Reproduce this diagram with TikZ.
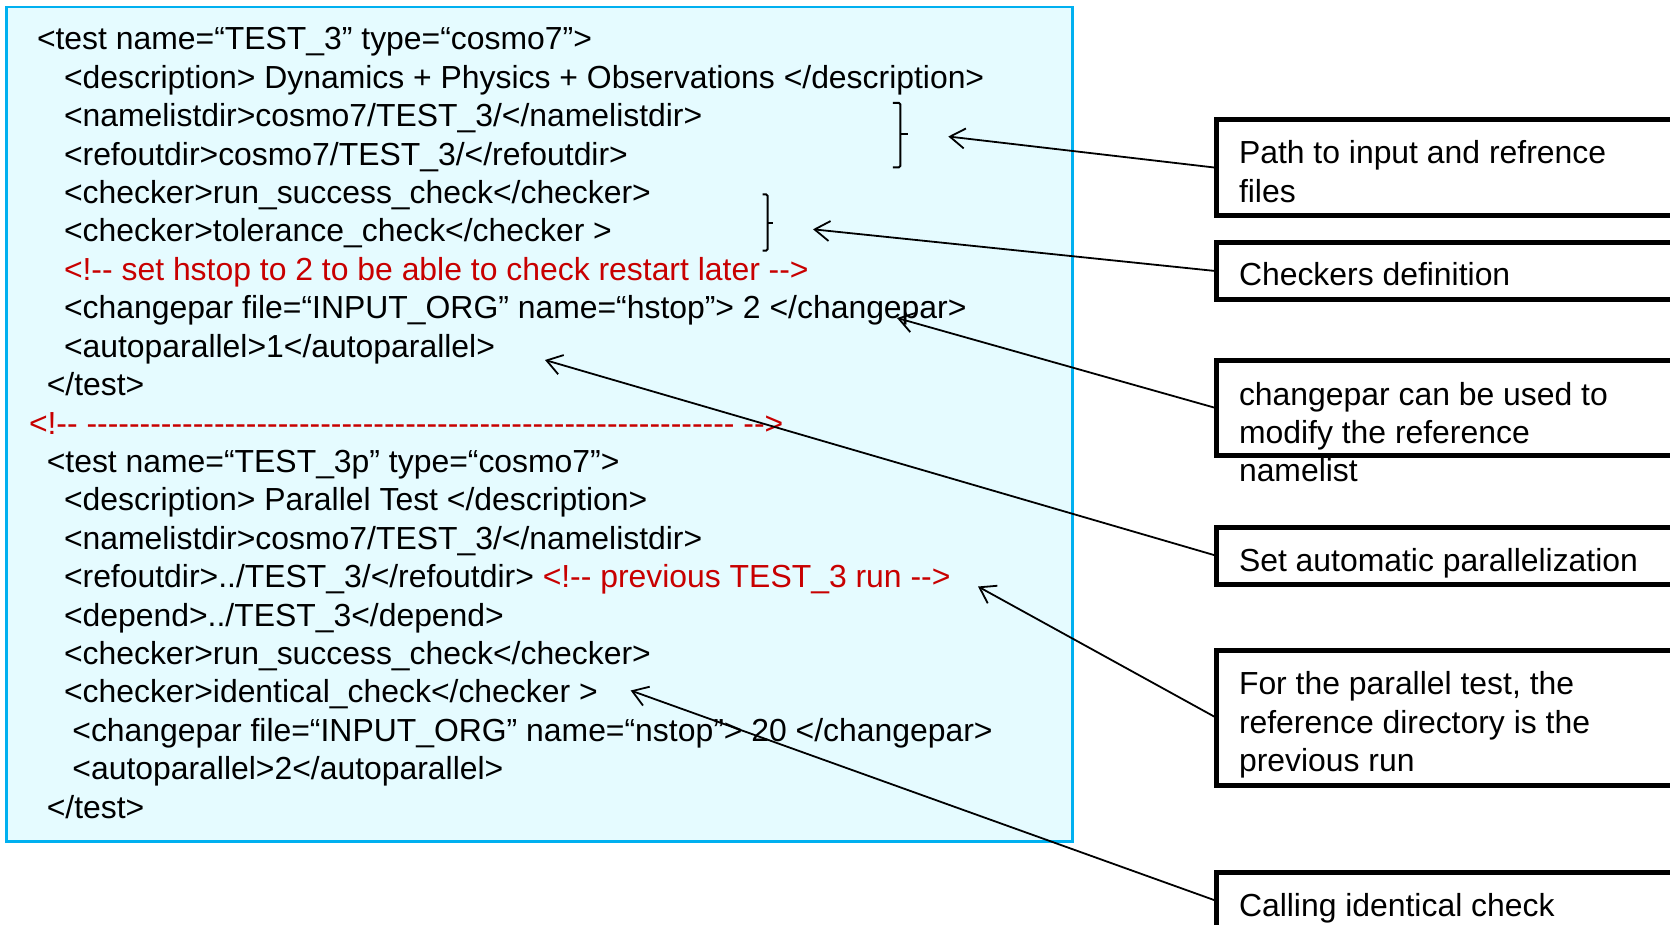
\documentclass[tikz,border=0pt]{standalone}
\usepackage{fontspec}
\setmainfont{Liberation Sans}
\usetikzlibrary{arrows.meta}
\definecolor{codebg}{RGB}{229,251,255}
\definecolor{codeline}{RGB}{0,176,240}
\definecolor{cred}{RGB}{200,0,0}
\newcount\hycnt
\newcommand\hyrun[1]{\hycnt=0 \loop-{}\advance\hycnt by 1 \ifnum\hycnt<#1 \repeat}
\begin{document}
\begin{tikzpicture}[x=1pt,y=-1pt,
  txt/.style={anchor=base west, inner sep=0pt, outer sep=0pt, yshift=-1.5pt, font=\fontsize{31.9}{38.4}\selectfont},
  redtxt/.style={txt, text=cred},
  codebox/.style={draw=codeline, fill=codebg, line width=2.7pt, anchor=north west, outer sep=0pt, inner sep=0pt},
  note/.style={draw=black, line width=5pt, anchor=north west, outer sep=0pt, inner sep=0pt, minimum width=520pt},
  brace/.style={line width=2pt, rounded corners=1.5pt},
  conn/.style={line width=1.8pt, -{Straight Barb[length=15pt,width=20pt,line width=1.8pt]}}
]
\clip (0,0) rectangle (1670,925);
% code panel
\node[codebox, minimum width=1065.8pt, minimum height=834.3pt] (cb) at (6.5,7) {};
\node[txt] (c1) at (37,48.5) {<test name=“TEST\_3” type=“cosmo7”>};
\node[txt] (c2) at (64,86.9) {<description> Dynamics + Physics + Observations </description>};
\node[txt] (c3) at (64,125.3) {<namelistdir>cosmo7/TEST\_3/</namelistdir>};
\node[txt] (c4) at (64,163.7) {<refoutdir>cosmo7/TEST\_3/</refoutdir>};
\node[txt] (c5) at (64,202.1) {<checker>run\_success\_check</checker>};
\node[txt] (c6) at (64,240.5) {<checker>tolerance\_check</checker >};
\node[redtxt] (c7) at (64,278.9) {<!-{}- set hstop to 2 to be able to check restart later -{}->};
\node[txt] (c8) at (64,317.3) {<changepar file=“INPUT\_ORG” name=“hstop”> 2 </changepar>};
\node[txt] (c9) at (64,355.7) {<autoparallel>1</autoparallel>};
\node[txt] (c10) at (46.8,394.1) {</test>};
\node[redtxt] (c11) at (29,432.8) {<!-{}- \hyrun{61} -{}->};
\node[txt] (c12) at (46.8,470.9) {<test name=“TEST\_3p” type=“cosmo7”>};
\node[txt] (c13) at (64,509.3) {<description> Parallel Test </description>};
\node[txt] (c14) at (64,547.7) {<namelistdir>cosmo7/TEST\_3/</namelistdir>};
\node[txt] (c15) at (64,586.1) {<refoutdir>../TEST\_3/</refoutdir> \textcolor{cred}{<!-{}- previous TEST\_3 run -{}->}};
\node[txt] (c16) at (64,624.5) {<depend>../TEST\_3</depend>};
\node[txt] (c17) at (64,662.9) {<checker>run\_success\_check</checker>};
\node[txt] (c18) at (64,701.3) {<checker>identical\_check</checker >};
\node[txt] (c19) at (72.4,739.7) {<changepar file=“INPUT\_ORG” name=“nstop”> 20 </changepar>};
\node[txt] (c20) at (72.4,778.1) {<autoparallel>2</autoparallel>};
\node[txt] (c21) at (46.8,816.5) {</test>};
% braces
\draw[brace] (892.8,103) -- (900.4,103) -- (900.4,167.3) -- (892.8,167.3);
\draw[line width=2pt] (900.4,134) -- (908,134);
\draw[brace] (762.6,194.3) -- (767.6,194.3) -- (767.6,250.7) -- (762.6,250.7);
\draw[line width=2pt] (767.6,222.7) -- (773.4,222.7);
% annotation texts
\node[txt] (n1a) at (1239,162.5) {Path to input and refrence};
\node[txt] (n1b) at (1239,201) {files};
\node[txt] (n2) at (1239,284) {Checkers definition};
\node[txt] (n3a) at (1239,403.5) {changepar can be used to};
\node[txt] (n3b) at (1239,441.5) {modify the reference};
\node[txt] (n3c) at (1239,480) {namelist};
\node[txt] (n4) at (1239,569.5) {Set automatic parallelization};
\node[txt] (n5a) at (1239,693) {For the parallel test, the};
\node[txt] (n5b) at (1239,731.5) {reference directory is the};
\node[txt] (n5c) at (1239,769.5) {previous run};
\node[txt] (n6) at (1239,914.5) {Calling identical check};
% annotation boxes
\node[note, minimum height=96pt] (b1) at (1216.8,119.8) {};
\node[note, minimum height=57.3pt] (b2) at (1216.8,242.5) {};
\node[note, minimum height=95pt] (b3) at (1216.8,360.8) {};
\node[note, minimum height=56.7pt] (b4) at (1216.8,527.5) {};
\node[note, minimum height=134.4pt] (b5) at (1216.8,650.8) {};
\node[note, minimum height=57pt] (b6) at (1216.8,872.5) {};
% arrow targets
\coordinate (t1) at (948.3,136.5);
\coordinate (t2) at (813,229.3);
\coordinate (t3) at (897,318);
\coordinate (t4) at (545,360);
\coordinate (t5) at (978,586.5);
\coordinate (t6) at (630.7,690.5);
\draw[conn] (b1.west) -- (t1);
\draw[conn] (b2.west) -- (t2);
\draw[conn] (b3.west) -- (t3);
\draw[conn] (b4.west) -- (t4);
\draw[conn] (b5.west) -- (t5);
\draw[conn] (b6.west) -- (t6);
\end{tikzpicture}
\end{document}
